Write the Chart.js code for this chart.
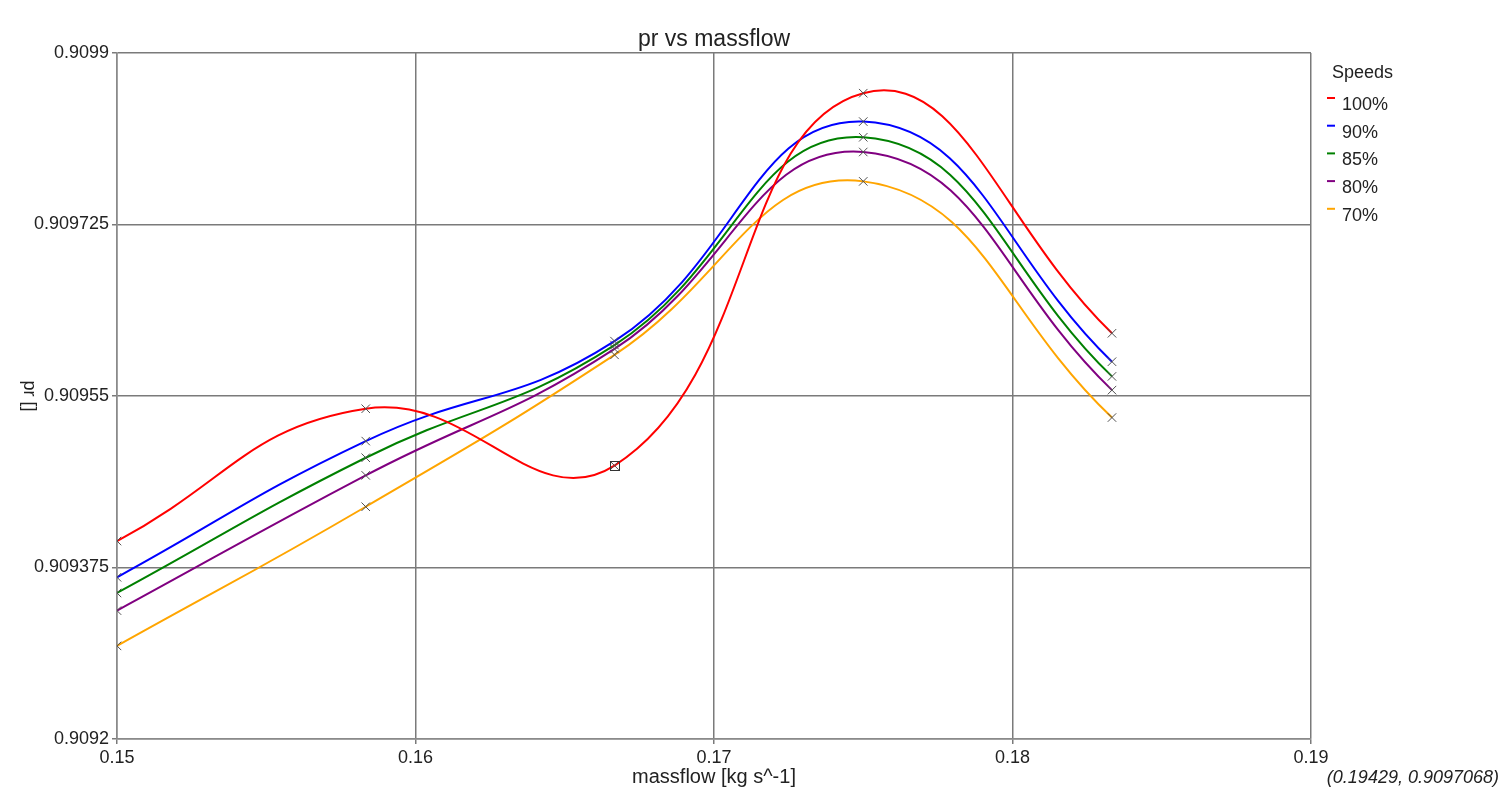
<!DOCTYPE html>
<html>
<head>
<meta charset="utf-8">
<script src="https://cdn.jsdelivr.net/npm/chart.js@4/dist/chart.umd.min.js"></script>
<style>
  html, body { margin: 0; padding: 0; background: #ffffff; }
  #wrap { width: 1507px; height: 792px; }
</style>
</head>
<body>
<div id="wrap"><canvas id="c" width="1507" height="792"></canvas></div>
<script>
// ---- data ----
const massflow = [0.15, 0.158333, 0.166667, 0.175, 0.183333];
const speed100 = [0.909402, 0.909537, 0.909479, 0.909859, 0.909614];
const speed90  = [0.909365, 0.909504, 0.909606, 0.909830, 0.909585];
const speed85  = [0.909349, 0.909487, 0.909602, 0.909814, 0.909570];
const speed80  = [0.909331, 0.909469, 0.909598, 0.909799, 0.909556];
const speed70  = [0.909295, 0.909437, 0.909592, 0.909769, 0.909528];
const speedLabels = ['100%', '90%', '85%', '80%', '70%'];
const speedColors = ['#ff0000', '#0000ff', '#008000', '#800080', '#ffa500'];
const xTicks = [0.15, 0.16, 0.17, 0.18, 0.19];
const xTickLabels = ['0.15', '0.16', '0.17', '0.18', '0.19'];
const yTicks = [0.9092, 0.909375, 0.90955, 0.909725, 0.9099];
const yTickLabels = ['0.9092', '0.909375', '0.90955', '0.909725', '0.9099'];
const highlighted = { dataset: 0, index: 2 };
const cursorText = '(0.19429, 0.9097068)';

const FONT = '"Liberation Sans", Arial, sans-serif';
const series = [speed100, speed90, speed85, speed80, speed70];

const datasets = series.map((vals, i) => ({
  label: speedLabels[i],
  data: vals.map((v, j) => ({ x: massflow[j], y: v })),
  borderColor: speedColors[i],
  backgroundColor: speedColors[i],
  borderWidth: 2,
  tension: 0.45,
  fill: false,
  pointStyle: 'crossRot',
  pointRadius: 6,
  pointBorderWidth: 1,
  pointBorderColor: '#505050',
  pointBackgroundColor: '#505050'
}));

const extras = {
  id: 'extras',
  afterDraw(chart) {
    const ctx = chart.ctx;
    const area = chart.chartArea;
    ctx.save();
    // highlighted point square
    const el = chart.getDatasetMeta(highlighted.dataset).data[highlighted.index];
    ctx.strokeStyle = '#333333';
    ctx.lineWidth = 1;
    ctx.strokeRect(Math.round(el.x) - 4.5, Math.round(el.y) - 4.5, 9, 9);

    // y axis title (rotated clockwise)
    ctx.fillStyle = '#222222';
    ctx.font = '18px ' + FONT;
    ctx.textAlign = 'center';
    ctx.textBaseline = 'middle';
    ctx.translate(29, (area.top + area.bottom) / 2);
    ctx.rotate(Math.PI / 2);
    ctx.fillText('pr []', 0, 0);
    ctx.setTransform(1, 0, 0, 1, 0, 0);

    // legend
    const lx = area.right + 16;
    ctx.textAlign = 'left';
    ctx.textBaseline = 'middle';
    ctx.font = '18px ' + FONT;
    ctx.fillStyle = '#222222';
    ctx.fillText('Speeds', area.right + 21, 73);
    chart.data.datasets.forEach((ds, i) => {
      const y = 98 + i * 27.7;
      ctx.strokeStyle = ds.borderColor;
      ctx.lineWidth = 2;
      ctx.beginPath();
      ctx.moveTo(lx, y);
      ctx.lineTo(lx + 8, y);
      ctx.stroke();
      ctx.fillStyle = '#222222';
      ctx.fillText(ds.label, area.right + 31, y + 7);
    });

    // cursor readout
    ctx.font = 'italic 18px ' + FONT;
    ctx.textAlign = 'right';
    ctx.fillStyle = '#222222';
    ctx.fillText(cursorText, 1499, 778);
    ctx.restore();
  }
};

new Chart(document.getElementById('c'), {
  type: 'line',
  data: { datasets },
  options: {
    responsive: false,
    animation: false,
    layout: { padding: { left: 0, right: 196, top: 0, bottom: 0 } },
    plugins: {
      legend: { display: false },
      tooltip: { enabled: false },
      title: {
        display: true,
        text: 'pr vs massflow',
        fullSize: false,
        color: '#222222',
        font: { family: FONT, size: 23, weight: 'normal', lineHeight: 1.0 },
        padding: { top: 28, bottom: 2 }
      }
    },
    scales: {
      x: {
        type: 'linear',
        min: 0.15,
        max: 0.19,
        afterFit(scale) { scale.height = 53; },
        afterBuildTicks(scale) { scale.ticks = xTicks.map(v => ({ value: v })); },
        ticks: {
          color: '#222222',
          font: { family: FONT, size: 18 },
          padding: 3,
          maxRotation: 0,
          callback: (v, i) => xTickLabels[i]
        },
        grid: { color: '#7a7a7a', lineWidth: 1.5, tickLength: 5, drawTicks: true },
        border: { color: '#8a8a8a', width: 1.5 },
        title: {
          display: true,
          text: 'massflow [kg s^-1]',
          color: '#222222',
          font: { family: FONT, size: 20 },
          padding: { top: 0, bottom: 3 }
        }
      },
      y: {
        type: 'linear',
        min: 0.9092,
        max: 0.9099,
        afterFit(scale) { scale.width = 117; },
        afterBuildTicks(scale) { scale.ticks = yTicks.map(v => ({ value: v })); },
        ticks: {
          color: '#222222',
          font: { family: FONT, size: 18 },
          padding: 3,
          callback: (v, i) => yTickLabels[i]
        },
        grid: { color: '#7a7a7a', lineWidth: 1.5, tickLength: 5, drawTicks: true },
        border: { color: '#8a8a8a', width: 1.5 }
      }
    }
  },
  plugins: [extras]
});
</script>
</body>
</html>
